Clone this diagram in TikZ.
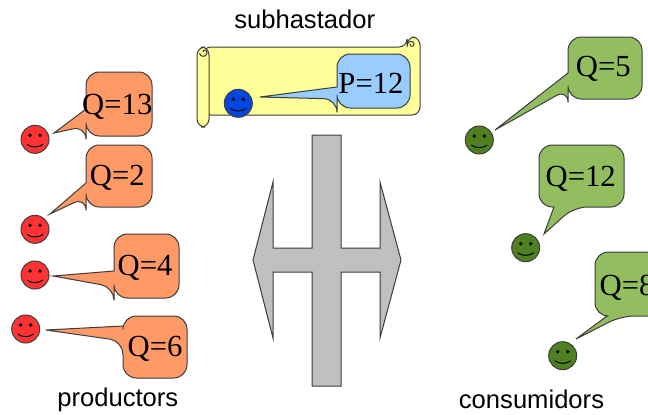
\documentclass[tikz,border=0pt]{standalone}
\usepackage{fontspec}
\setmainfont{Liberation Serif}
\setsansfont{Liberation Sans}
\definecolor{prodorange}{RGB}{255,153,102}
\definecolor{consgreen}{RGB}{146,190,96}
\definecolor{auctblue}{RGB}{153,204,255}
\definecolor{scrollyellow}{RGB}{255,255,153}
\definecolor{facered}{RGB}{255,51,51}
\definecolor{facegreen}{RGB}{79,128,32}
\definecolor{faceblue}{RGB}{0,71,224}
\definecolor{barbgray}{RGB}{192,192,192}
\definecolor{edgegray}{RGB}{60,60,60}
\tikzset{every picture/.style={line width=0.75pt},
	callout/.style={draw=edgegray,line width=0.75pt,rounded corners=10},
	qlabel/.style={inner sep=0pt,font=\fontsize{23}{24}\selectfont},
	rolelabel/.style={inner sep=0pt,font=\sffamily\fontsize{19.2}{22}\selectfont},
	smiley/.pic={
		\node [circle,draw=edgegray,fill=#1,minimum size=21pt,inner sep=0pt] (-disc) at (0,0) {};
		\draw [fill=edgegray] (-5,4) circle (1.2) (5,4) circle (1.2);
		\draw (-8,-5) .. controls (-4,-8.5) and (4,-8.5) .. (8,-5);
	}}
\begin{document}
\begin{tikzpicture}[x=0.75pt,y=0.75pt,yscale=-1,xscale=1]
	\useasboundingbox (0,0) rectangle (648,414);
	\clip (0,0) rectangle (648,414);

	%scroll of the auctioneer
	\draw [edgegray,fill=scrollyellow,rounded corners=6] (203,47) -- (407,47) -- (407,37) -- (420,37) -- (420,115) -- (203,115) -- cycle;
	\draw [edgegray,fill=scrollyellow,rounded corners=6] (197,47) rectangle (209,127);
	\draw [edgegray] (199.5,53) .. controls (200,57.5) and (206.5,57.5) .. (207,53) .. controls (207,49.5) and (203,49.5) .. (203,52);
	\draw [edgegray] (407,47) .. controls (407,40) and (414,40) .. (414,44) .. controls (414,47) and (410,47) .. (410,44);

	%central double arrow
	\draw [edgegray,fill=barbgray] (312,135) -- (341,135) -- (341,248) -- (380,248) -- (380,182) -- (401,260) -- (380,338) -- (380,272) -- (341,272) -- (341,386) -- (312,386) -- (312,272) -- (273,272) -- (273,338) -- (253,260) -- (273,182) -- (273,248) -- (312,248) -- cycle;

	%callouts
	\draw [callout,fill=auctblue] (373,54) -- (410,54) -- (410,108) -- (337,108) -- (337,99) [sharp corners] -- (260,97) -- (337,87) [rounded corners=10] -- (337,54) -- cycle;
	\draw [callout,fill=prodorange] (119,72) -- (152,72) -- (152,136) -- (86,136) -- (86,126) [sharp corners] -- (54,133) -- (86,109) [rounded corners=10] -- (86,72) -- cycle;
	\draw [callout,fill=prodorange] (119,145) -- (152,145) -- (152,207) -- (86,207) -- (86,197) [sharp corners] -- (50,214) -- (86,183) [rounded corners=10] -- (86,145) -- cycle;
	\draw [callout,fill=prodorange] (146,234) -- (179,234) -- (179,298) -- (114,298) -- (114,287) [sharp corners] -- (53,276) -- (114,271) [rounded corners=10] -- (114,234) -- cycle;
	\draw [callout,fill=prodorange] (155,316) -- (187,316) -- (187,378) -- (123,378) -- (123,341) [sharp corners] -- (46,330) -- (123,326) [rounded corners=10] -- (123,316) -- cycle;
	\draw [callout,fill=consgreen] (605,37) -- (642,37) -- (642,99) -- (568,99) -- (568,89) [sharp corners] -- (495,130) -- (568,73) [rounded corners=10] -- (568,37) -- cycle;
	\draw [callout,fill=consgreen] (581,145) -- (624,145) -- (624,207) -- (574,207) [sharp corners] -- (544,234) -- (554,207) [rounded corners=10] -- (539,207) -- (539,145) -- cycle;
	\draw [callout,fill=consgreen] (632,252) -- (669,252) -- (669,316) -- (621,316) [sharp corners] -- (576,339) -- (607,316) [rounded corners=10] -- (595,316) -- (595,252) -- cycle;

	%agents
	\pic (auctioneer) at (238.3,103.3) {smiley=faceblue};
	\pic (prodA) at (35,139.3) {smiley=facered};
	\pic (prodB) at (35,229.3) {smiley=facered};
	\pic (prodC) at (35,275) {smiley=facered};
	\pic (prodD) at (25.7,329) {smiley=facered};
	\pic (consA) at (479.3,140) {smiley=facegreen};
	\pic (consB) at (525.7,247.7) {smiley=facegreen};
	\pic (consC) at (562.7,355.7) {smiley=facegreen};

	\node [qlabel] (priceP) at (371,83.7) {P=12};
	\node [qlabel] (qtyA) at (117.3,106.5) {Q=13};
	\node [qlabel] (qtyB) at (117.3,178) {Q=2};
	\node [qlabel] (qtyC) at (145,268) {Q=4};
	\node [qlabel] (qtyD) at (155,349) {Q=6};
	\node [qlabel] (qtyE) at (603.3,68.8) {Q=5};
	\node [qlabel] (qtyF) at (580.7,178.8) {Q=12};
	\node [qlabel] (qtyG) at (627,287.5) {Q=8};

	\node [rolelabel] (subhastador) at (304.7,19.5) {subhastador};
	\node [rolelabel] (productors) at (117.8,399.5) {productors};
	\node [rolelabel] (consumidors) at (531.5,399.5) {consumidors};
\end{tikzpicture}
\end{document}
